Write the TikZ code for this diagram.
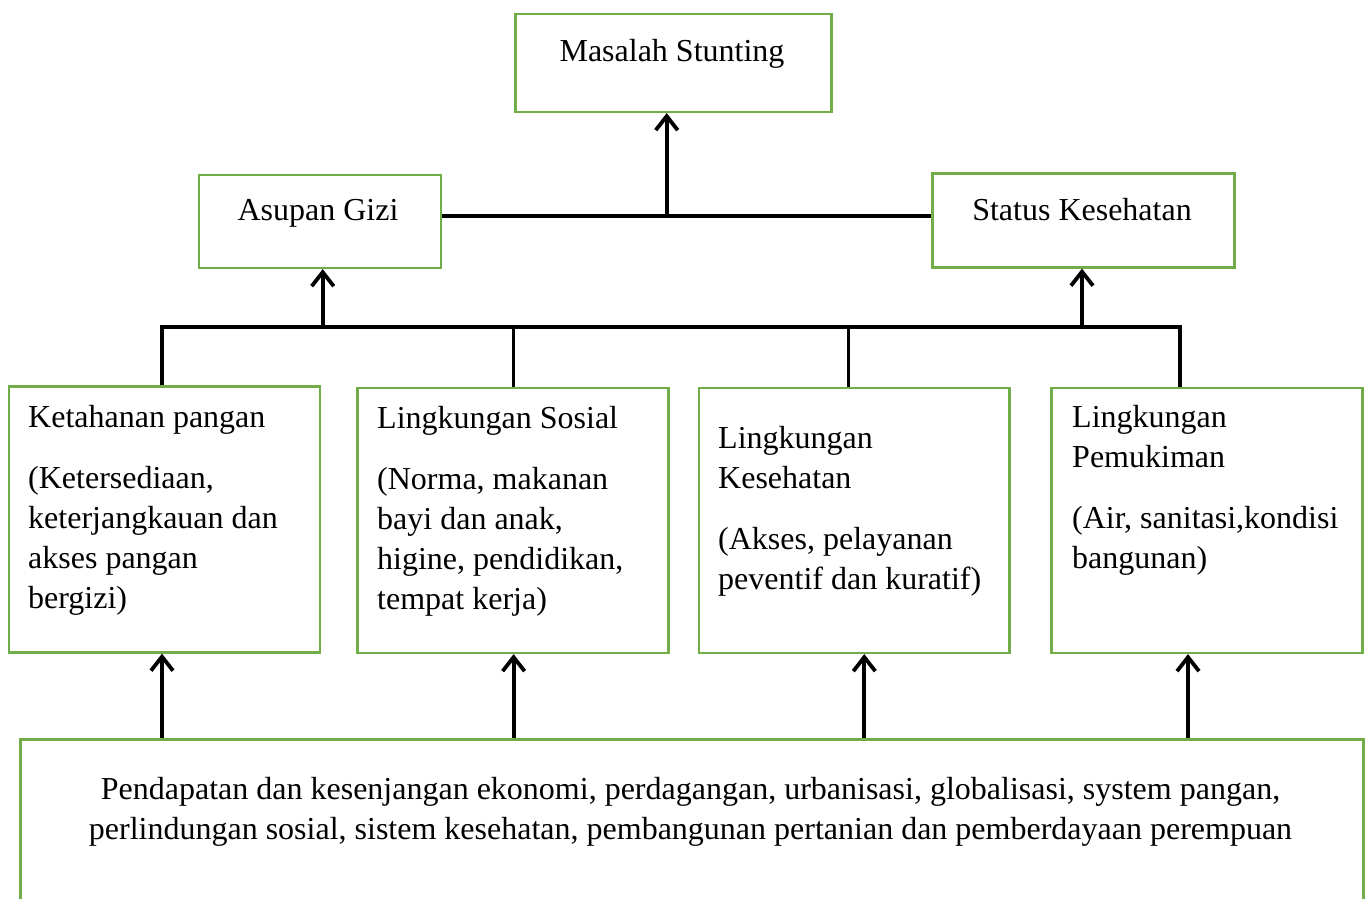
\documentclass[tikz,border=0pt]{standalone}
\usepackage{fontspec}
\setmainfont{Liberation Serif}
\usetikzlibrary{arrows.meta}
\definecolor{boxgreen}{HTML}{70AD47}
\begin{document}
\begin{tikzpicture}[x=1bp,y=-1bp,
  box/.style={draw=boxgreen,line width=2.6bp,inner sep=0pt,anchor=north west},
  txt/.style={font=\fontsize{32bp}{40bp}\selectfont,inner sep=0pt},
  conn/.style={line width=3.8bp},
  arr/.style={conn,-{Straight Barb[length=14bp,width=22bp]}}]
\useasboundingbox (0,0) rectangle (1368,898);
\clip (0,0) rectangle (1368,898);
% boxes
\node[box,minimum width=316bp,minimum height=98bp] (ms) at (514,12.5) {};
\node[box,minimum width=242bp,minimum height=93bp] (ag) at (197.5,173.5) {};
\node[box,minimum width=302bp,minimum height=94bp] (sk) at (931,172) {};
\node[box,minimum width=311bp,minimum height=266bp] (kp) at (7.5,385) {};
\node[box,minimum width=311bp,minimum height=265bp] (ls) at (356,386.5) {};
\node[box,minimum width=310.5bp,minimum height=265bp] (lk) at (697.5,386.5) {};
\node[box,minimum width=311bp,minimum height=265bp] (lp) at (1050,386.5) {};
\node[box,minimum width=1343bp,minimum height=220bp] (bb) at (19,738) {};
% texts
\node[txt,anchor=base] (tms) at (672,61) {Masalah Stunting};
\node[txt,anchor=base] (tag) at (318,220) {Asupan Gizi};
\node[txt,anchor=base] (tsk) at (1082,220) {Status Kesehatan};
\node[txt,anchor=north west,align=left] (tkp) at (28,399)
  {\strut Ketahanan pangan\\[21.5bp]\strut (Ketersediaan,\\\strut keterjangkauan dan\\\strut akses pangan\\\strut bergizi)};
\node[txt,anchor=north west,align=left] (tls) at (377,400)
  {\strut Lingkungan Sosial\\[21bp]\strut (Norma, makanan\\\strut bayi dan anak,\\\strut higine, pendidikan,\\\strut tempat kerja)};
\node[txt,anchor=north west,align=left] (tlk) at (718,420)
  {\strut Lingkungan\\\strut Kesehatan\\[21bp]\strut (Akses, pelayanan\\\strut peventif dan kuratif)};
\node[txt,anchor=north west,align=left] (tlp) at (1072,399)
  {\strut Lingkungan\\\strut Pemukiman\\[21.5bp]\strut (Air, sanitasi,kondisi\\\strut bangunan)};
\node[txt,anchor=north,align=center] (tbb) at (690.5,771)
  {\strut Pendapatan dan kesenjangan ekonomi, perdagangan, urbanisasi, globalisasi, system pangan,\\
   \strut perlindungan sosial, sistem kesehatan, pembangunan pertanian dan pemberdayaan perempuan};
% junction points
\coordinate (jt) at (666.7,216);
\coordinate (j1) at (162,327);
\coordinate (j2) at (513.4,327);
\coordinate (j3) at (848.4,327);
\coordinate (j4) at (1180,327);
\coordinate (ja) at (322.7,327);
\coordinate (jb) at (1082,327);
\coordinate (c1) at (162,738);
\coordinate (c2) at (513.6,738);
\coordinate (c3) at (864.3,738);
\coordinate (c4) at (1188,738);
% connectors
\draw[conn] (ag.east |- jt) -- (sk.west |- jt);
\draw[arr] (jt) -- (jt |- ms.south);
\draw[conn] (j1 |- kp.north) -- (j1) -- (j4) -- (j4 |- lp.north);
\draw[conn] (j2) -- (j2 |- ls.north);
\draw[conn] (j3) -- (j3 |- lk.north);
\draw[arr] (ja) -- (ja |- ag.south);
\draw[arr] (jb) -- (jb |- sk.south);
\draw[arr] (c1) -- (c1 |- kp.south);
\draw[arr] (c2) -- (c2 |- ls.south);
\draw[arr] (c3) -- (c3 |- lk.south);
\draw[arr] (c4) -- (c4 |- lp.south);
\end{tikzpicture}
\end{document}
